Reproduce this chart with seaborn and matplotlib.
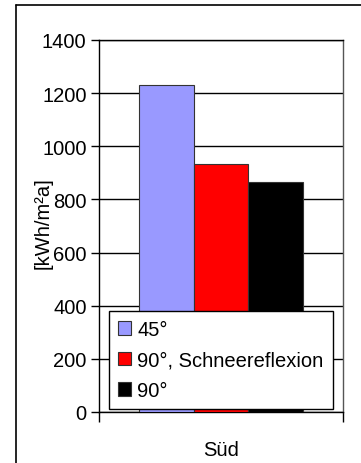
import pandas as pd
import matplotlib
matplotlib.use('Agg')
import matplotlib.pyplot as plt
from matplotlib.lines import Line2D
import seaborn as sns

regions = ['Süd', 'Süd', 'Süd']
series = ['45°', '90°, Schneereflexion', '90°']
values = [1230, 932, 866]
colors = ['#9999FF', '#FF0000', '#000000']

df = pd.DataFrame({'region': regions, 'series': series, 'value': values})

sns.set_style("white")
plt.rcParams['font.family'] = ['Liberation Sans', 'DejaVu Sans']
plt.rcParams['text.color'] = 'black'
plt.rcParams['axes.labelcolor'] = 'black'
plt.rcParams['xtick.color'] = 'black'
plt.rcParams['ytick.color'] = 'black'

fig = plt.figure(figsize=(3.61, 4.64), dpi=100)
ax = fig.add_axes([99/361, 1 - 413/464, 244/361, 372/464])

sns.barplot(data=df, x='region', y='value', hue='series', palette=colors,
            saturation=1, width=0.67, edgecolor='#333333', linewidth=0.8,
            ax=ax, zorder=3)

ax.set_ylim(0, 1400)
ax.set_xlim(-0.5, 0.5)
ax.set_yticks(range(0, 1401, 200))
ax.tick_params(axis='y', labelsize=14.5, length=6, width=1,
               direction='out', left=True, pad=3)
ax.yaxis.grid(True, color='black', linewidth=1, zorder=0)
ax.set_axisbelow(True)

ax.set_xticks([0])
ax.set_xticklabels(['Süd'])
ax.tick_params(axis='x', which='major', length=0, labelsize=14.5, pad=20)
ax.set_xticks([-0.5, 0.5], minor=True)
ax.tick_params(axis='x', which='minor', length=7, width=1,
               direction='out', bottom=True)
ax.set_xlabel('')

ax.set_ylabel('[kWh/m²a]', fontsize=14.5)
ax.yaxis.set_label_coords(-0.19, 0.51)

for side in ['left', 'top', 'bottom']:
    ax.spines[side].set_color('black')
    ax.spines[side].set_linewidth(1)
ax.spines['right'].set_color('#555555')
ax.spines['right'].set_linewidth(1)

leg = ax.legend(loc='lower left', bbox_to_anchor=(0.041, 0.008), fontsize=14.5,
                frameon=True, fancybox=False, borderaxespad=0,
                handlelength=0.65, handleheight=0.65, handletextpad=0.3,
                labelspacing=0.57, borderpad=0.45)
leg.get_frame().set_edgecolor('black')
leg.get_frame().set_linewidth(1)
leg.get_frame().set_alpha(1)
leg.set_zorder(5)

# outer chart frame
fig.add_artist(Line2D([16/361, 16/361], [0, 1 - 6/464], color='black', linewidth=1.2))
fig.add_artist(Line2D([16/361, 1], [1 - 6/464, 1 - 6/464], color='black', linewidth=1.2))

fig.savefig('out.png', dpi=100)
